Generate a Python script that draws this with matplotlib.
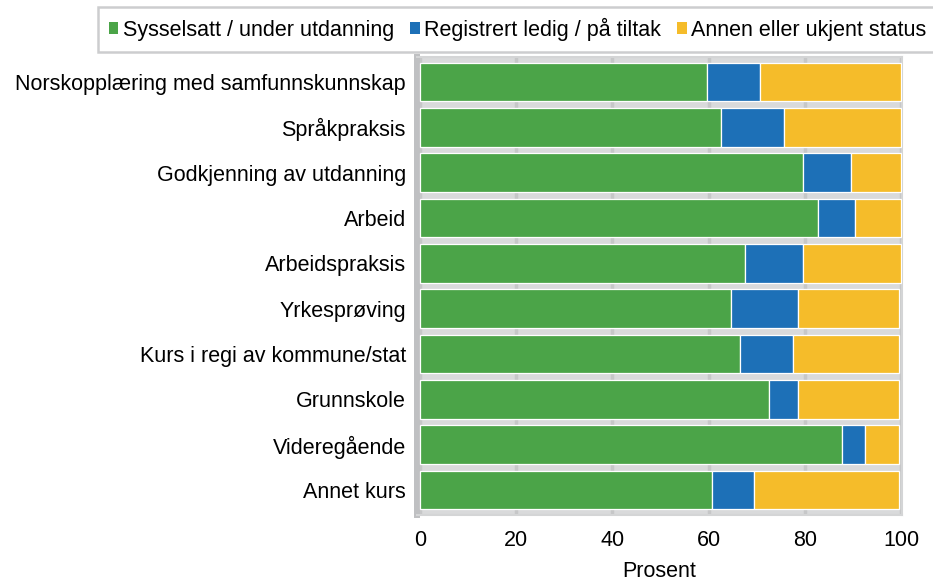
import numpy as np
import matplotlib
matplotlib.use('Agg')
import matplotlib.pyplot as plt
from matplotlib.patches import Patch

plt.rcParams['font.family'] = ['Liberation Sans', 'DejaVu Sans']

# data (prosent)
kategorier = ['Norskopplæring med samfunnskunnskap', 'Språkpraksis', 'Godkjenning av utdanning',
              'Arbeid', 'Arbeidspraksis', 'Yrkesprøving', 'Kurs i regi av kommune/stat',
              'Grunnskole', 'Videregående', 'Annet kurs']
sysselsatt = [59.6, 62.6, 79.7, 82.7, 67.5, 64.6, 66.5, 72.6, 87.7, 60.6]
ledig = [11.0, 13.0, 10.0, 7.8, 12.1, 14.0, 11.0, 6.0, 4.8, 8.8]
annen = [29.4, 24.4, 10.3, 9.5, 20.4, 21.0, 22.1, 21.0, 7.1, 30.2]
serienavn = ['Sysselsatt / under utdanning', 'Registrert ledig / på tiltak', 'Annen eller ukjent status']
farger = ['#4ba448', '#1d70b7', '#f5bc2a']

fig = plt.figure(figsize=(9.33, 5.81), dpi=100)
ax = fig.add_axes([417/933, 66/581, (902-417)/933, (515-57)/581])
ax.set_facecolor('#d9dadb')

y = np.arange(len(kategorier))
venstre = np.zeros(len(kategorier))
for verdier, navn, farge in zip([sysselsatt, ledig, annen], serienavn, farger):
    ax.barh(y, verdier, left=venstre, height=0.85, color=farge,
            edgecolor='white', linewidth=0.9, label=navn, zorder=3)
    venstre = venstre + np.array(verdier)

ax.set_ylim(len(kategorier) - 0.45, -0.55)
ax.set_xlim(-0.62, 100.2)
ax.set_yticks(y)
ax.set_yticklabels(kategorier, fontsize=15.5)
ax.set_xticks([0, 20, 40, 60, 80, 100])
ax.tick_params(axis='x', labelsize=15.5, length=0, pad=11)
ax.tick_params(axis='y', length=0, pad=8)
ax.set_xlabel('Prosent', fontsize=15.5, labelpad=7)

# rutenett
ax.grid(axis='x', color='#c6c7c8', linewidth=2.5, zorder=1)
ax.set_axisbelow(True)

# kanter
for s in ['top', 'right', 'bottom']:
    ax.spines[s].set_color('#d4d5d6')
    ax.spines[s].set_linewidth(1.5)
ax.spines['left'].set_color('#bfc0c2')
ax.spines['left'].set_linewidth(4.3)

# legende
handles = [Patch(facecolor=f, edgecolor='none') for f in farger]
leg = fig.legend(handles, serienavn, loc='upper left', bbox_to_anchor=(98/933, 1 - 7/581),
                 ncol=3, fontsize=15.5, frameon=True, fancybox=False,
                 handlelength=0.45, handleheight=0.45, handletextpad=0.2,
                 columnspacing=0.75, borderpad=0.5, borderaxespad=0)
leg.get_frame().set_edgecolor('#c0c1c3')
leg.get_frame().set_linewidth(1.8)

plt.savefig('out.png', dpi=100)
